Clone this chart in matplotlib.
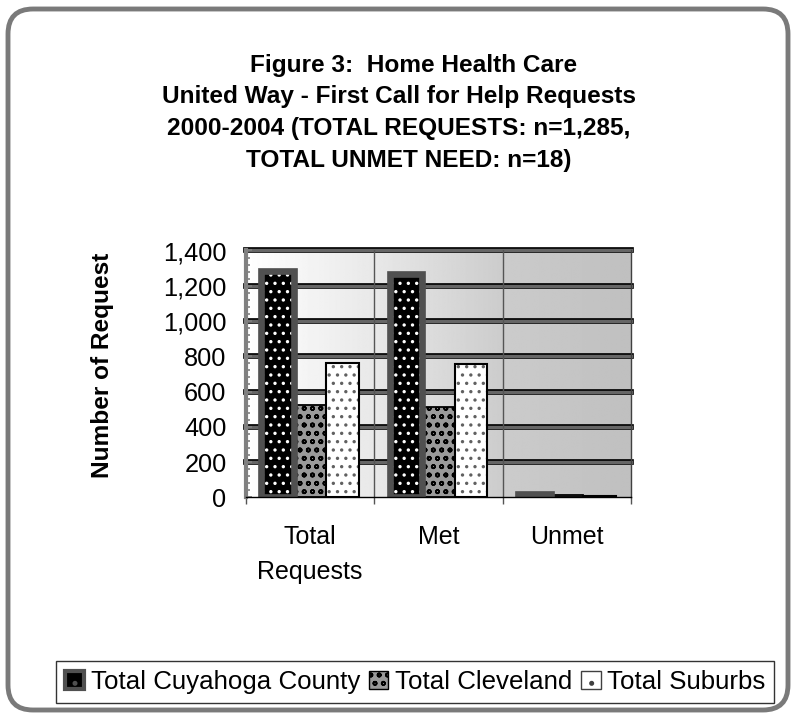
import numpy as np
import matplotlib
matplotlib.use("Agg")
import matplotlib.pyplot as plt
from matplotlib.patches import FancyBboxPatch, Patch
from matplotlib.transforms import IdentityTransform
from matplotlib.ticker import MultipleLocator, FixedLocator, FuncFormatter

################################################# Data
categories = ["Total\nRequests", "Met", "Unmet"]
series = ["Total Cuyahoga County", "Total Cleveland", "Total Suburbs"]
cuyahoga = [1285, 1267, 18]
cleveland = [523, 512, 11]
suburbs = [762, 755, 7]
title_lines = ["Figure 3:  Home Health Care",
               "United Way - First Call for Help Requests",
               "2000-2004 (TOTAL REQUESTS: n=1,285,",
               "TOTAL UNMET NEED: n=18)"]
title_x = [414, 399, 399, 409]   # pixel centres of each title line

################################################# Style
plt.rcParams['font.family'] = ['Liberation Sans', 'DejaVu Sans']
plt.rcParams['hatch.linewidth'] = 1.2
W, H = 794, 713
fig = plt.figure(figsize=(W / 100, H / 100), dpi=100)
ax = fig.add_axes([246 / W, 1 - 497.3 / H, 385 / W, (497.3 - 250.5) / H])

x = np.arange(len(categories))
bw = 0.253

# background gradient (white -> grey, left to right)
gx = np.linspace(-0.5, 2.5, 300)
gv = np.interp(gx, [-0.5, 0.5, 1.5, 2.5], [1.0, 0.91, 0.80, 0.75])
ax.imshow(gv[None, :], extent=[-0.5, 2.5, 0, 1400], aspect='auto', cmap='gray',
          vmin=0, vmax=1, zorder=0, interpolation='bilinear')

# heavy gridlines
for yv in range(200, 1401, 200):
    ax.axhline(yv, color='black', lw=4.1, zorder=1, clip_on=False)
    ax.axhline(yv, color='#666666', lw=2.4, zorder=1.1, clip_on=False)
for xv in [0.5, 1.5]:
    ax.axvline(xv, color='#555555', lw=1.0, zorder=1.2)

# Cuyahoga: black with white dots, thick grey border
ax.bar(x - bw, cuyahoga, bw, color='black', edgecolor='white', lw=0, hatch='..', zorder=2)
ax.bar(x - bw, cuyahoga, bw, fill=False, edgecolor='#505050', lw=4.8, zorder=2.1)
# Cleveland: grey with black circles
ax.bar(x, cleveland, bw, color='#9a9a9a', edgecolor='black', lw=1.3, hatch='oo', zorder=2)
# Suburbs: white with grey marks
ax.bar(x + bw, suburbs, bw, color='white', edgecolor='#606060', lw=0, hatch='..', zorder=2)
ax.bar(x + bw, suburbs, bw, fill=False, edgecolor='black', lw=1.5, zorder=2.1)

ax.set_xlim(-0.5, 2.5)
ax.set_ylim(0, 1400)

################################################# Axes
ax.yaxis.set_major_locator(MultipleLocator(200))
ax.yaxis.set_minor_locator(MultipleLocator(40))
ax.yaxis.set_major_formatter(FuncFormatter(lambda v, p: f"{int(v):,}"))
ax.tick_params(axis='y', which='both', direction='in', color='#808080', width=1.2,
               labelsize=18.3, pad=14)
ax.tick_params(axis='y', which='major', length=4)
ax.tick_params(axis='y', which='minor', length=3)

ax.xaxis.set_major_locator(FixedLocator(x))
ax.set_xticklabels(categories)
ax.xaxis.set_minor_locator(FixedLocator([-0.5, 0.5, 1.5, 2.5]))
ax.tick_params(axis='x', which='major', length=0, labelsize=18, pad=20)
ax.tick_params(axis='x', which='minor', length=5, color='#555555', width=1.0)
for lab in ax.get_xticklabels():
    lab.set_linespacing(1.6)

ax.spines['left'].set_color('#808080')
ax.spines['left'].set_linewidth(3.0)
ax.spines['bottom'].set_color('black')
ax.spines['bottom'].set_linewidth(1.0)
ax.spines['right'].set_color('#404040')
ax.spines['right'].set_linewidth(1.0)
ax.spines['top'].set_visible(False)

fig.text(102 / W, 1 - 365 / H, "Number of Request", rotation=90, ha='center',
         va='center', fontsize=17.6, fontweight='bold')

################################################# Title
for i, t in enumerate(title_lines):
    fig.text(title_x[i] / W, 1 - (71.7 + 31.7 * i) / H, t, ha='center', va='baseline',
             fontsize=17.6, fontweight='bold')

################################################# Legend
handles = [Patch(facecolor='black', edgecolor='#505050', lw=3, hatch='.'),
           Patch(facecolor='#9a9a9a', edgecolor='black', lw=1, hatch='oo'),
           Patch(facecolor='white', edgecolor='#404040', lw=1, hatch='.')]
leg = fig.legend(handles, series, loc='center', bbox_to_anchor=(415 / W, 1 - 682 / H),
                 ncol=3, fontsize=18.6, frameon=True, fancybox=False, edgecolor='black',
                 handlelength=0.75, handleheight=0.75, handletextpad=0.25,
                 columnspacing=0.35, borderpad=0.35)
leg.get_frame().set_linewidth(1.0)

################################################# Frame
frame = FancyBboxPatch((8, 3), 780, 701, boxstyle='round,pad=0,rounding_size=25',
                       transform=IdentityTransform(), fill=False, edgecolor='#7a7a7a',
                       lw=3.5)
fig.add_artist(frame)

fig.savefig("out.png", dpi=100)
